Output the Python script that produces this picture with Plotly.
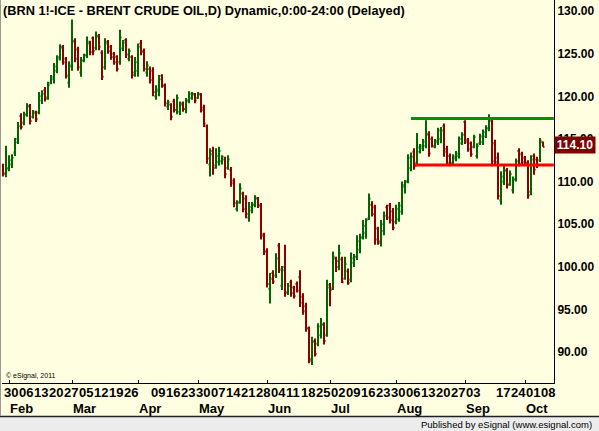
import pandas as pd
import plotly.graph_objects as go

# trading sessions (ICE closed on Good Friday)
dates = [d for d in pd.bdate_range("2012-01-30", "2012-10-09") if d != pd.Timestamp("2012-04-06")]

opens = [111.8, 111.0, 111.6, 112.0, 113.4, 115.0, 117.7, 116.9, 117.9, 118.9,
         117.6, 118.0, 118.1, 119.5, 120.7, 119.9, 121.6, 122.0, 123.0, 124.6,
         125.8, 124.4, 121.6, 123.5, 126.5, 125.5, 122.8, 124.2, 124.8, 126.2,
         126.8, 125.7, 127.0, 125.1, 123.4, 126.4, 125.8, 125.0, 124.6, 124.0,
         125.6, 126.6, 124.4, 124.6, 122.8, 123.0, 126.2, 125.3, 122.8, 123.2,
         123.0, 120.0, 120.6, 122.4, 121.2, 118.8, 119.0, 119.4, 118.4, 118.2,
         119.2, 118.5, 119.5, 119.8, 120.2, 119.8, 120.2, 118.7, 116.5, 112.0,
         113.6, 111.9, 112.3, 112.4, 112.6, 111.6, 111.4, 110.1, 106.8, 107.6,
         108.6, 108.0, 105.8, 106.6, 107.3, 108.0, 107.2, 103.8, 101.8, 97.4,
         99.3, 99.0, 102.5, 97.8, 100.0, 97.0, 98.2, 97.6, 98.0, 98.8,
         96.5, 95.4, 92.8, 89.0, 91.3, 91.0, 92.0, 93.2, 92.0, 97.9,
         97.5, 101.0, 100.0, 100.9, 98.6, 99.5, 98.5, 100.5, 101.2, 102.0,
         103.5, 104.0, 105.7, 107.3, 107.0, 104.5, 102.8, 104.2, 107.0, 107.2,
         106.5, 105.3, 105.6, 106.5, 109.4, 110.0, 111.6, 113.5, 112.2, 113.5,
         113.9, 114.2, 115.5, 115.0, 114.1, 114.6, 115.0, 116.5, 113.8, 113.0,
         112.2, 112.7, 113.0, 114.5, 117.0, 114.9, 114.5, 114.1, 113.0, 114.5,
         114.6, 115.3, 116.2, 117.1, 114.5, 112.8, 107.8, 110.0, 111.3, 109.7,
         109.0, 110.3, 113.6, 113.2, 112.8, 112.2, 108.8, 113.0, 112.6, 112.5,
         114.6]

highs = [112.1, 114.2, 113.1, 113.2, 115.1, 117.0, 118.0, 118.2, 119.2, 119.1,
         118.4, 118.3, 120.5, 120.7, 121.1, 121.7, 122.5, 123.9, 124.8, 126.1,
         126.0, 124.6, 124.1, 129.0, 126.8, 125.8, 124.6, 125.0, 127.0, 126.5,
         127.0, 127.6, 127.3, 125.4, 126.8, 126.6, 126.0, 125.2, 124.8, 127.8,
         126.6, 126.8, 125.6, 124.8, 124.6, 126.2, 126.6, 125.6, 124.1, 123.5,
         123.4, 121.3, 122.5, 122.6, 121.5, 119.6, 119.2, 119.7, 120.2, 119.4,
         119.4, 119.8, 120.6, 120.5, 120.4, 120.5, 120.4, 119.0, 116.7, 113.9,
         114.1, 113.9, 114.1, 113.1, 112.9, 113.1, 111.7, 110.4, 107.8, 109.8,
         108.8, 108.4, 107.6, 107.6, 108.4, 108.2, 107.5, 104.0, 102.2, 99.3,
         99.6, 101.6, 102.8, 100.1, 102.6, 98.1, 98.5, 97.8, 98.3, 99.6,
         96.9, 95.8, 93.0, 91.8, 91.6, 93.4, 94.0, 93.5, 98.5, 98.1,
         101.8, 101.2, 102.6, 101.2, 101.2, 99.8, 101.7, 101.5, 103.7, 103.9,
         105.5, 105.7, 108.6, 107.7, 107.3, 104.7, 105.5, 106.5, 107.3, 107.5,
         106.9, 107.3, 107.6, 110.0, 110.2, 113.2, 113.4, 113.9, 115.7, 114.4,
         115.0, 117.2, 115.9, 115.3, 115.0, 116.3, 116.4, 116.8, 114.2, 113.3,
         113.2, 113.6, 115.3, 115.8, 117.2, 115.1, 114.7, 115.5, 114.5, 115.6,
         116.1, 116.6, 117.9, 117.4, 114.9, 113.4, 111.2, 111.9, 111.6, 111.3,
         110.6, 112.7, 113.9, 113.5, 113.0, 112.5, 113.1, 113.3, 112.9, 115.1,
         114.7]

lows = [110.6, 110.5, 111.2, 111.6, 113.0, 114.4, 116.1, 116.6, 117.6, 116.7,
        117.4, 117.0, 117.9, 119.1, 119.4, 119.6, 121.4, 121.5, 122.7, 124.2,
        123.7, 122.1, 121.0, 123.0, 124.0, 123.0, 122.3, 124.0, 124.5, 124.8,
        124.8, 125.4, 125.4, 121.9, 123.1, 125.0, 124.3, 123.7, 122.9, 123.7,
        125.3, 124.5, 124.1, 122.1, 122.3, 122.3, 124.8, 122.9, 122.3, 121.5,
        120.0, 119.6, 120.0, 121.0, 118.8, 118.4, 117.2, 118.1, 117.9, 117.8,
        118.2, 118.0, 119.2, 119.6, 119.2, 119.7, 118.1, 116.4, 112.1, 110.6,
        110.8, 111.5, 111.9, 112.0, 110.4, 111.4, 109.4, 107.0, 106.5, 107.4,
        106.4, 105.7, 105.3, 106.3, 107.0, 106.9, 103.2, 101.4, 97.6, 95.7,
        98.0, 98.7, 99.3, 97.3, 96.5, 96.7, 96.5, 96.3, 97.0, 95.3,
        94.4, 92.4, 88.7, 88.5, 89.5, 90.7, 91.6, 90.9, 91.8, 95.4,
        97.3, 99.4, 99.6, 98.1, 98.5, 97.9, 98.2, 100.0, 100.8, 101.6,
        103.2, 103.3, 105.5, 105.9, 102.6, 102.6, 102.4, 103.7, 105.5, 105.1,
        104.3, 105.0, 105.3, 106.1, 108.6, 109.8, 111.2, 111.4, 111.8, 113.3,
        113.6, 113.9, 112.9, 114.0, 113.9, 114.3, 114.5, 112.9, 111.9, 111.8,
        111.9, 112.4, 112.7, 114.3, 114.4, 113.5, 112.9, 113.9, 112.7, 114.3,
        114.3, 115.1, 115.9, 111.8, 111.9, 107.9, 107.3, 109.6, 109.2, 109.5,
        108.6, 110.0, 111.8, 111.9, 112.0, 108.0, 108.4, 110.8, 111.6, 112.3,
        114.1]

closes = [110.9, 111.5, 112.5, 112.8, 114.6, 116.5, 116.4, 117.8, 118.8, 117.1,
          118.2, 117.3, 120.0, 120.3, 119.7, 121.3, 122.3, 123.5, 124.4, 125.7,
          124.0, 122.4, 123.6, 126.4, 124.4, 123.4, 124.2, 124.8, 126.4, 125.2,
          125.3, 127.1, 125.8, 122.3, 126.2, 125.3, 124.6, 124.0, 123.2, 126.9,
          126.3, 124.9, 125.3, 122.5, 124.0, 125.8, 125.2, 123.2, 123.6, 121.9,
          120.5, 120.8, 122.0, 121.3, 119.2, 119.3, 117.6, 118.4, 119.8, 119.0,
          118.5, 119.5, 120.3, 120.3, 119.5, 120.3, 118.4, 116.8, 112.7, 113.2,
          111.6, 113.0, 113.6, 112.9, 110.9, 112.6, 109.8, 107.5, 107.5, 109.2,
          106.8, 106.2, 107.0, 107.3, 108.1, 107.2, 103.6, 101.8, 98.0, 98.6,
          98.3, 101.0, 99.7, 99.6, 97.0, 97.8, 96.9, 96.6, 97.2, 95.8,
          94.8, 92.8, 89.2, 91.2, 89.8, 93.0, 93.3, 91.3, 97.6, 97.3,
          101.2, 100.7, 101.6, 98.2, 100.3, 98.1, 101.0, 101.2, 103.0, 103.4,
          104.8, 105.5, 108.0, 106.2, 103.2, 103.0, 105.0, 106.0, 105.8, 105.5,
          104.6, 106.8, 107.2, 109.6, 110.0, 112.8, 112.9, 111.8, 114.0, 114.2,
          114.7, 115.6, 113.3, 114.2, 114.8, 116.0, 116.0, 113.5, 112.2, 112.1,
          112.9, 113.3, 115.0, 115.5, 114.7, 113.8, 113.2, 115.2, 114.2, 115.3,
          115.8, 116.3, 117.4, 112.4, 112.3, 108.3, 110.6, 111.3, 109.6, 110.9,
          110.2, 112.4, 112.1, 112.3, 112.2, 108.4, 112.6, 111.4, 111.9, 114.8,
          114.1]

y_ticks = [90, 95, 100, 105, 110, 115, 120, 125, 130]
skip_mondays = ["2012-04-02", "2012-09-10"]
resistance = 117.4
support = 111.95
resistance_start = "2012-08-08"
support_start = "2012-08-09"
last_price = "114.10"

BG = "#FFFEE1"
FONT = "Liberation Sans"
PLOT_H = 383  # plot area height in px (margin t=0)


def py(px):
    # pixel row -> paper y
    return (PLOT_H - px) / PLOT_H


def pxx(px):
    # pixel column -> paper x (plot starts at 2, width 552)
    return (px - 2) / 552


x = list(range(len(dates)))
date_idx = {d.strftime("%Y-%m-%d"): i for i, d in enumerate(dates)}

fig = go.Figure(go.Ohlc(
    x=x, open=opens, high=highs, low=lows, close=closes,
    increasing=dict(line=dict(color="#006600", width=2)),
    decreasing=dict(line=dict(color="#8c0000", width=2)),
    tickwidth=0.5, showlegend=False, hoverinfo="skip",
))

annotations = []
# weekly day numbers and month names below the axis
for i, d in enumerate(dates):
    if d.weekday() == 0 and d.strftime("%Y-%m-%d") not in skip_mondays:
        annotations.append(dict(x=i, xref="x", y=py(392), yref="paper", text="<b>%s</b>" % d.strftime("%d"),
                                xanchor="left", yanchor="middle", xshift=-1, showarrow=False,
                                font=dict(family=FONT, size=13, color="black")))
month_starts = [i for i in range(1, len(dates)) if dates[i].month != dates[i - 1].month]
for i in month_starts:
    annotations.append(dict(x=i, xref="x", y=py(408), yref="paper", text="<b>%s</b>" % dates[i].strftime("%b"),
                            xanchor="left", yanchor="middle", xshift=-1, showarrow=False,
                            font=dict(family=FONT, size=13, color="black")))

annotations += [
    dict(x=0, xref="paper", y=py(10), yref="paper", xanchor="left", yanchor="middle", xshift=-1,
         text="<b>(BRN 1!-ICE - BRENT CRUDE OIL,D) Dynamic,0:00-24:00 (Delayed)</b>",
         showarrow=False, font=dict(family=FONT, size=12.75, color="black")),
    dict(x=pxx(4), xref="paper", y=py(376), yref="paper", xanchor="left", yanchor="middle",
         text="© eSignal, 2011", showarrow=False, font=dict(family=FONT, size=7, color="black")),
    dict(x=1, xref="paper", y=float(last_price), yref="y", xanchor="left", yanchor="middle", xshift=0,
         yshift=2, text="<b>%s</b>" % last_price, showarrow=False, bgcolor="#800000", width=38, height=14,
         borderpad=1, font=dict(family=FONT, size=12, color="white")),
    dict(x=pxx(594), xref="paper", y=py(424), yref="paper", xanchor="right", yanchor="middle",
         text="Published by eSignal (www.esignal.com)", showarrow=False,
         font=dict(family=FONT, size=9.5, color="black")),
]

shapes = [
    dict(type="line", xref="x", yref="y", x0=date_idx[resistance_start], x1=183.6,
         y0=resistance, y1=resistance, line=dict(color="#009000", width=3)),
    dict(type="line", xref="x", yref="y", x0=date_idx[support_start] + 0.3, x1=183.6,
         y0=support, y1=support, line=dict(color="#ff0000", width=3)),
    # status bar at the bottom
    dict(type="rect", xref="paper", yref="paper", x0=pxx(0), x1=pxx(599), y0=py(417), y1=py(431),
         fillcolor="#ececec", line=dict(width=0), layer="below"),
    dict(type="line", xref="paper", yref="paper", x0=pxx(0), x1=pxx(599), y0=py(416.5), y1=py(416.5),
         line=dict(color="#202020", width=1.5)),
    dict(type="line", xref="paper", yref="paper", x0=pxx(0.5), x1=pxx(0.5), y0=py(0), y1=py(416),
         line=dict(color="#9a9a9a", width=1)),
]

fig.update_layout(
    width=599, height=431,
    margin=dict(l=2, r=45, t=0, b=48, pad=0),
    paper_bgcolor=BG, plot_bgcolor=BG,
    annotations=annotations, shapes=shapes,
    xaxis=dict(range=[-1 / 3, 183.667], showgrid=False, zeroline=False, showticklabels=False,
               showline=True, linecolor="black", linewidth=1,
               ticks="inside", tickvals=[0] + month_starts, ticklen=3, tickcolor="black",
               rangeslider=dict(visible=False), fixedrange=True),
    yaxis=dict(side="right", range=[86.39, 131.29], showgrid=False, zeroline=False,
               showline=True, linecolor="black", linewidth=1, ticks="", ticklen=0,
               tickvals=y_ticks, ticktext=["<b>%.2f</b>" % v for v in y_ticks],
               tickfont=dict(family=FONT, size=12, color="black"), fixedrange=True),
)

# the default page has an 8px body margin; drop it so the figure fills the window
fig.write_html("out.html", config={"displayModeBar": False},
               post_script="document.body.style.margin='0';")
